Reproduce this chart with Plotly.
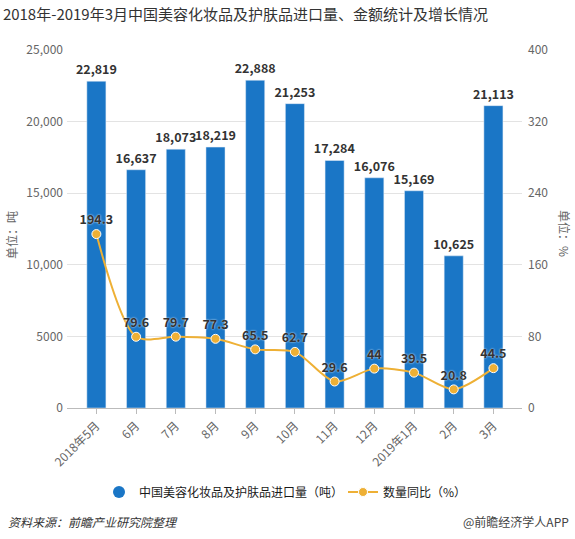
import plotly.graph_objects as go

categories = ["2018年5月", "6月", "7月", "8月", "9月", "10月", "11月", "12月", "2019年1月", "2月", "3月"]
import_volume = [22819, 16637, 18073, 18219, 22888, 21253, 17284, 16076, 15169, 10625, 21113]
yoy_growth = [194.3, 79.6, 79.7, 77.3, 65.5, 62.7, 29.6, 44, 39.5, 20.8, 44.5]
left_ticks = [0, 5000, 10000, 15000, 20000, 25000]
left_ticktext = ["0", "5000", "10,000", "15,000", "20,000", "25,000"]
right_ticks = [0, 80, 160, 240, 320, 400]

BLUE = "#1a76c6"
ORANGE = "#eeb035"
FONT = "Noto Sans CJK SC"

x_idx = list(range(len(categories)))

W, H = 575, 539
l, r, t, b = 67, 53, 50, 131
pw, ph = W - l - r, H - t - b

def px_x(x):
    return (x - l) / pw

def px_y(y):
    return (H - b - y) / ph

fig = go.Figure()
fig.add_trace(go.Bar(
    x=x_idx, y=import_volume, width=0.48, marker_color=BLUE,
    text=[f"{v:,}" for v in import_volume], textposition="outside",
    constraintext="none",
    textfont=dict(family=FONT, size=12.5, color="#333333", weight="bold"),
    cliponaxis=False, showlegend=False, name="中国美容化妆品及护肤品进口量（吨）",
))
fig.add_trace(go.Scatter(
    x=x_idx, y=yoy_growth, yaxis="y2", mode="lines+markers+text",
    line=dict(color=ORANGE, width=2, shape="spline", smoothing=0.8),
    marker=dict(color=ORANGE, size=9, line=dict(color="white", width=1)),
    text=[f"{v:g}" for v in yoy_growth], textposition="top center",
    textfont=dict(family=FONT, size=12.5, color="#333333", weight="bold",
                  shadow="0px 0px 2px white"),
    cliponaxis=False, showlegend=True, legend="legend2", name="数量同比（%）",
))
# legend-only entry with circle marker for the bars
fig.add_trace(go.Scatter(
    x=[None], y=[None], mode="markers",
    marker=dict(color=BLUE, size=12, symbol="circle"),
    name="中国美容化妆品及护肤品进口量（吨）", showlegend=True, legend="legend",
))

legend_font = dict(family=FONT, size=12, color="#1a1a1a")

fig.update_layout(
    width=W, height=H,
    margin=dict(l=l, r=r, t=t, b=b, autoexpand=False),
    paper_bgcolor="white", plot_bgcolor="white",
    font=dict(family=FONT, size=12, color="#666666"),
    title=dict(text="2018年-2019年3月中国美容化妆品及护肤品进口量、金额统计及增长情况",
               x=0.005, xanchor="left", y=1 - 15 / H, yanchor="middle",
               font=dict(family=FONT, size=15, color="#333333")),
    xaxis=dict(tickmode="array", tickvals=x_idx, ticktext=categories,
               range=[-0.74, 10.72], tickangle=-45, showgrid=False,
               showline=True, linecolor="#bbbbbb", ticks="outside",
               tickcolor="#bbbbbb", ticklen=5, zeroline=False,
               tickfont=dict(size=12, color="#666666")),
    yaxis=dict(range=[0, 25000], tickvals=left_ticks, ticktext=left_ticktext,
               showgrid=True, gridcolor="#e3e3e3", zeroline=False,
               tickfont=dict(size=12, color="#666666"), ticklabelstandoff=3),
    yaxis2=dict(range=[0, 400], tickvals=right_ticks, overlaying="y", side="right",
                showgrid=False, zeroline=False,
                tickfont=dict(size=12, color="#666666"), ticklabelstandoff=5),
    legend=dict(orientation="h", xref="paper", x=px_x(99), xanchor="left",
                y=px_y(492), yanchor="middle", font=legend_font, itemwidth=30),
    legend2=dict(orientation="h", xref="paper", x=px_x(343), xanchor="left",
                 y=px_y(492), yanchor="middle", font=legend_font, itemwidth=30),
    bargap=0.5,
)

def px_ann(text, x, y, xanchor="center", angle=0, size=12, color="#666666", style="normal"):
    fig.add_annotation(text=text, xref="paper", yref="paper",
                       x=px_x(x), y=px_y(y),
                       xanchor=xanchor, yanchor="middle", showarrow=False,
                       textangle=angle, font=dict(size=size, color=color, style=style))

px_ann("单位：吨", 12, 235, angle=-90)
px_ann("单位：%", 565, 233, angle=90)
px_ann("资料来源：前瞻产业研究院整理", 6, 521, xanchor="left", color="#333333", style="italic")
px_ann("@前瞻经济学人APP", 571, 521, xanchor="right", color="#444444")

fig.write_html("out.html", config={"displayModeBar": False},
               post_script="document.body.style.margin='0';")
